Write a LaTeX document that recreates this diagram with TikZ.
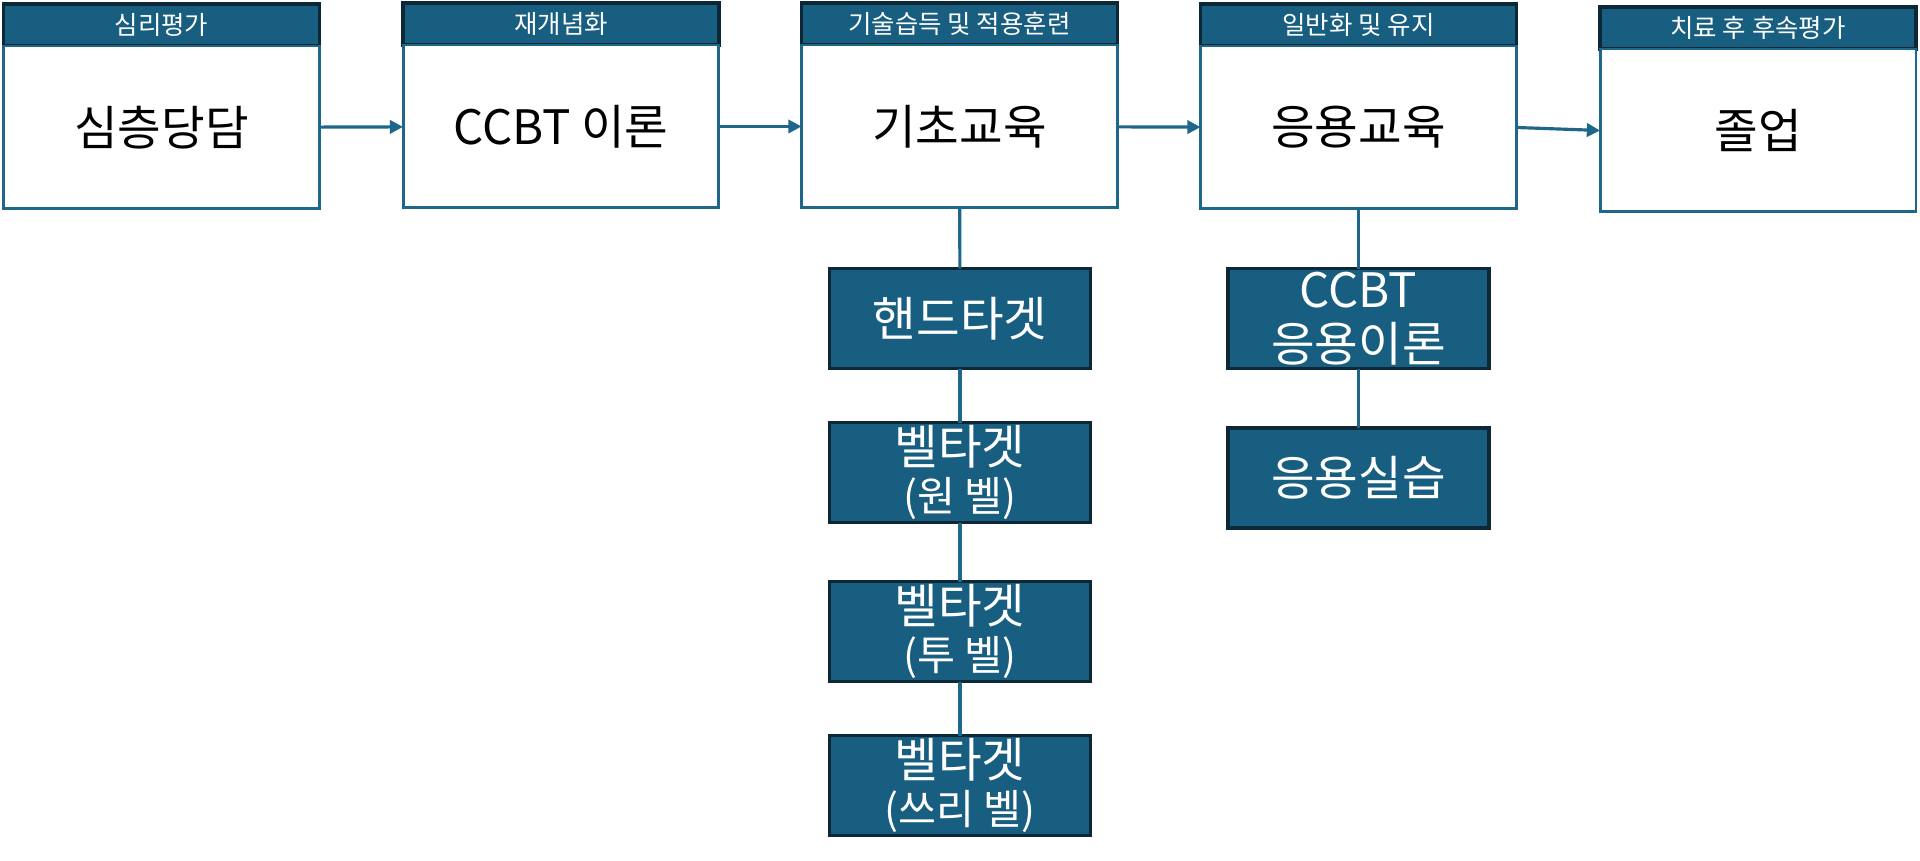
\documentclass[tikz,border=0pt]{standalone}
\usepackage{fontspec}
\setmainfont{Noto Sans CJK KR}
\usepackage{xcolor}
\usepackage{tikz}
\usetikzlibrary{arrows.meta,positioning}

\definecolor{headfill}{RGB}{24,94,128}
\definecolor{headline}{RGB}{12,40,54}
\definecolor{flowline}{RGB}{30,102,138}

\begin{document}
\begin{tikzpicture}[x=0.02cm, y=-0.02cm,
    head/.style={draw=headline, fill=headfill, line width=2.2pt, text=white,
        minimum width=6.32cm, minimum height=0.84cm, inner sep=0pt, outer sep=0pt,
        font=\fontsize{14.5}{16}\selectfont},
    stage/.style={draw=flowline, fill=white, line width=1.7pt,
        minimum width=6.32cm, minimum height=3.26cm, inner sep=0pt, outer sep=0pt,
        font=\fontsize{27}{30}\selectfont},
    task/.style={draw=headline, fill=headfill, line width=2.2pt, text=white,
        minimum width=5.22cm, minimum height=2.0cm, inner sep=0pt, outer sep=0pt,
        align=center, font=\fontsize{27}{27}\selectfont},
    flow/.style={draw=flowline, line width=1.8pt},
    step arrow/.style={flow, -{Triangle[length=7.5pt, width=7.5pt]}}]
    \useasboundingbox (0,0) rectangle (1920,860);

    \node[head] (hpsy) at (161.5,25) {심리평가};
    \node[stage, below=0pt of hpsy] (psy) {심층당담};
    \node[head] (hrec) at (561,24) {재개념화};
    \node[stage, below=0pt of hrec] (rec) {CCBT 이론};
    \node[head] (hbas) at (959.5,24) {기술습득 및 적용훈련};
    \node[stage, below=0pt of hbas] (bas) {기초교육};
    \node[head] (happ) at (1358.5,25) {일반화 및 유지};
    \node[stage, below=0pt of happ] (app) {응용교육};
    \node[head] (hgrad) at (1758,28) {치료 후 후속평가};
    \node[stage, below=0pt of hgrad] (grad) {졸업};

    \draw[step arrow] (psy) -- (rec);
    \draw[step arrow] (rec) -- (bas);
    \draw[step arrow] (bas) -- (app);
    \draw[step arrow] (app.east) -- (grad.west);

    \node[task] (hand) at (960,318.5) {핸드타겟};
    \node[task] (one) at (960,472.5) {벨타겟\\{\fontsize{23.5}{24}\selectfont (원 벨)}};
    \node[task] (two) at (960,631.5) {벨타겟\\{\fontsize{23.5}{24}\selectfont (투 벨)}};
    \node[task] (three) at (960,785.5) {벨타겟\\{\fontsize{23.5}{24}\selectfont (쓰리 벨)}};
    \node[task, font=\fontsize{27}{31}\selectfont] (theo) at (1358.5,318.5) {CCBT\\응용이론};
    \node[task] (prac) at (1358.5,478) {응용실습};

    \draw[flow] (bas) -- (hand);
    \draw[flow] (hand) -- (one);
    \draw[flow] (one) -- (two);
    \draw[flow] (two) -- (three);
    \draw[flow] (app) -- (theo);
    \draw[flow] (theo) -- (prac);
\end{tikzpicture}
\end{document}
